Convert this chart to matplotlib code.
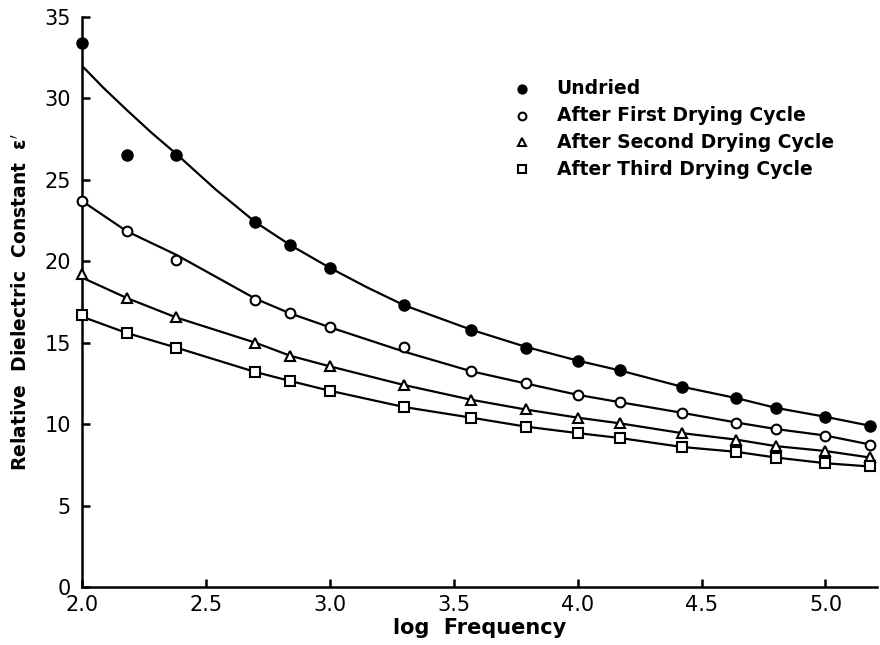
import matplotlib
matplotlib.use("Agg")
import matplotlib.pyplot as plt

# log frequency positions of measurements
log_freq = [2.00, 2.18, 2.38, 2.70, 2.84, 3.00, 3.30, 3.57, 3.79, 4.00, 4.17, 4.42, 4.64, 4.80, 5.00, 5.18]

# measured points
undried = [33.4, 26.5, 26.5, 22.4, 21.0, 19.6, 17.3, 15.8, 14.7, 13.9, 13.3, 12.3, 11.6, 11.0, 10.45, 9.9]
first_cycle = [23.7, 21.85, 20.1, 17.65, 16.8, 15.95, 14.75, 13.25, 12.5, 11.8, 11.35, 10.7, 10.1, 9.7, 9.3, 8.75]
second_cycle = [19.2, 17.75, 16.55, 15.0, 14.2, 13.55, 12.4, 11.5, 10.9, 10.4, 10.05, 9.45, 9.05, 8.65, 8.35, 8.0]
third_cycle = [16.7, 15.6, 14.7, 13.2, 12.65, 12.05, 11.05, 10.4, 9.85, 9.45, 9.15, 8.6, 8.3, 7.95, 7.6, 7.4]

# fitted curves
fit_x_undried = [2.00, 2.09, 2.18, 2.28, 2.38, 2.54, 2.70, 2.84, 3.00, 3.15, 3.30, 3.57, 3.79, 4.00, 4.17, 4.42, 4.64, 4.80, 5.00, 5.18]
undried_fit = [32.0, 30.6, 29.3, 27.9, 26.6, 24.4, 22.4, 21.0, 19.6, 18.4, 17.3, 15.8, 14.75, 13.9, 13.3, 12.3, 11.6, 11.0, 10.45, 9.9]
first_fit = [23.7, 21.85, 20.4, 17.7, 16.8, 15.95, 14.45, 13.25, 12.5, 11.8, 11.35, 10.7, 10.1, 9.7, 9.3, 8.75]
second_fit = [19.0, 17.75, 16.55, 15.0, 14.2, 13.55, 12.4, 11.5, 10.9, 10.4, 10.05, 9.45, 9.05, 8.65, 8.35, 7.95]
third_fit = [16.6, 15.6, 14.7, 13.2, 12.65, 12.05, 11.05, 10.4, 9.85, 9.45, 9.15, 8.6, 8.3, 7.95, 7.6, 7.4]

labels = ["Undried", "After First Drying Cycle", "After Second Drying Cycle", "After Third Drying Cycle"]
x_ticks = [2.0, 2.5, 3.0, 3.5, 4.0, 4.5, 5.0]
y_ticks = [0, 5, 10, 15, 20, 25, 30, 35]

plt.rcParams['font.family'] = ['DejaVu Sans']

fig = plt.figure(figsize=(8.8, 6.45), dpi=100)
ax = fig.add_axes([82 / 880, 58 / 645, 795 / 880, 570 / 645])

series = [
    (undried, fit_x_undried, undried_fit, dict(marker='o', ms=8, mfc='black', mec='black')),
    (first_cycle, log_freq, first_fit, dict(marker='o', ms=7, mfc='white', mec='black', mew=1.5)),
    (second_cycle, log_freq, second_fit, dict(marker='^', ms=7, mfc='white', mec='black', mew=1.5)),
    (third_cycle, log_freq, third_fit, dict(marker='s', ms=6.5, mfc='white', mec='black', mew=1.5)),
]

for pts, fx, fit, mstyle in series:
    ax.plot(fx, fit, color='black', lw=1.6, zorder=2)
    ax.plot(log_freq, pts, linestyle='none', zorder=3, clip_on=False, **mstyle)

# legend as markers + text in data coordinates
leg_y = [30.6, 28.95, 27.3, 25.65]
leg_marker_x = 3.776
leg_text_x = 3.915
for (pts, fx, fit, mstyle), ly, lab in zip(series, leg_y, labels):
    st = dict(mstyle)
    st['ms'] = st['ms'] * 0.8
    ax.plot([leg_marker_x], [ly], linestyle='none', **st)
    ax.text(leg_text_x, ly, lab, fontsize=13.5, fontweight='bold', va='center', ha='left')

ax.set_xlim(2.0, 5.208)
ax.set_ylim(0, 35)
ax.set_xticks(x_ticks)
ax.set_yticks(y_ticks)
ax.set_xticklabels([f"{v:.1f}" for v in x_ticks])
ax.set_yticklabels([str(v) for v in y_ticks])
for s in ['top', 'right']:
    ax.spines[s].set_visible(False)
for s in ['left', 'bottom']:
    ax.spines[s].set_linewidth(1.8)
ax.tick_params(axis='both', direction='in', length=6, width=1.8, labelsize=15)
ax.tick_params(axis='y', pad=8)
ax.tick_params(axis='x', pad=6)

ax.set_xlabel("log  Frequency", fontsize=15, fontweight='bold', labelpad=2)
ax.set_ylabel("Relative  Dielectric  Constant  ε$^{\\prime}$", fontsize=13.5, fontweight='bold', labelpad=10)

fig.savefig("out.png", dpi=100)
